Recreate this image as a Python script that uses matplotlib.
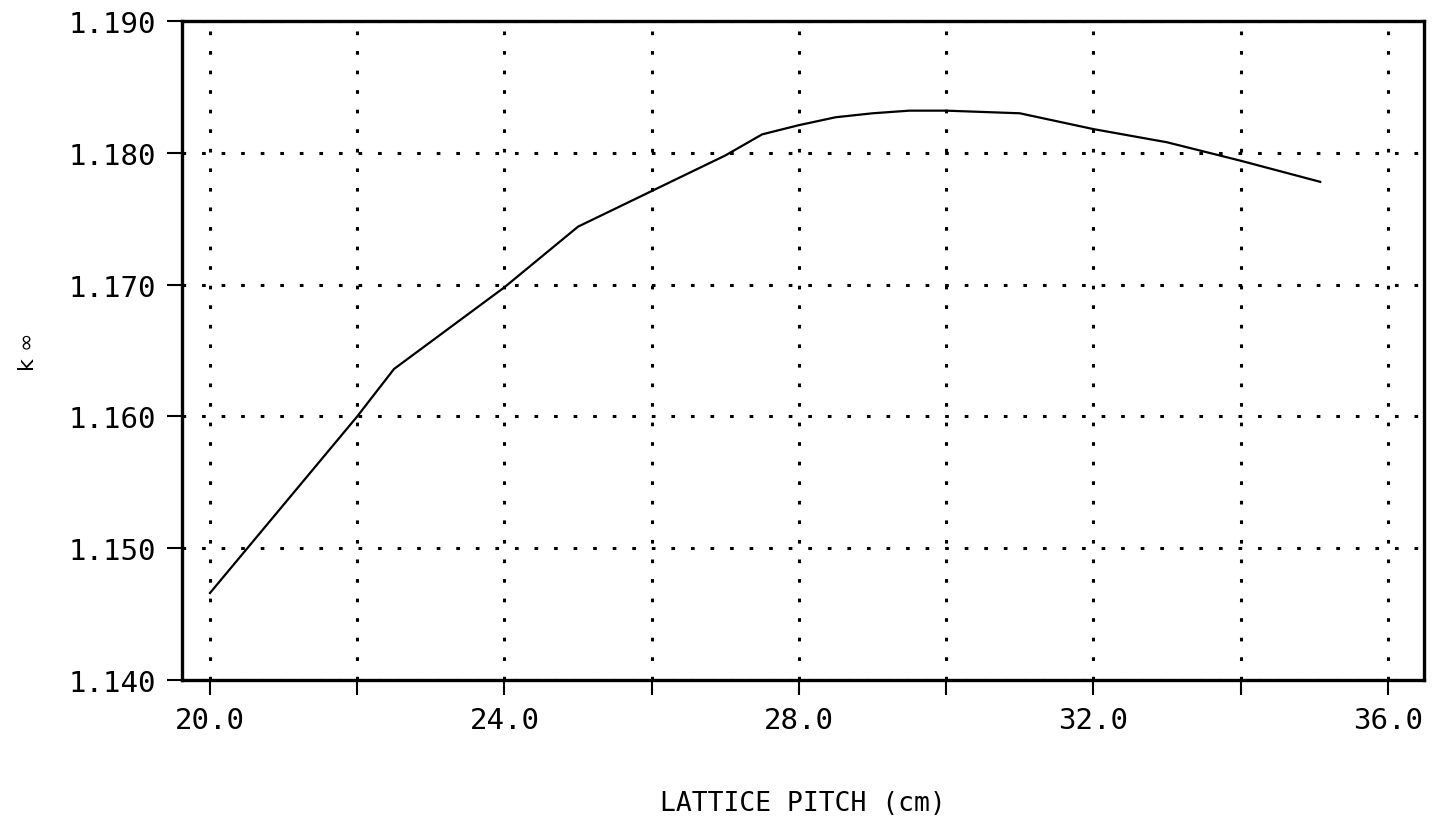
import matplotlib
matplotlib.use("Agg")
import matplotlib.pyplot as plt

# k-infinity vs lattice pitch
pitch = [20.0, 22.0, 22.5, 24.0, 25.0, 26.0, 27.0, 27.5, 28.0, 28.5, 29.0,
         29.5, 30.0, 30.5, 31.0, 32.0, 33.0, 34.0, 35.08]
kinf = [1.1466, 1.1600, 1.1636, 1.1698, 1.1744, 1.1771, 1.1798, 1.1814,
        1.1821, 1.1827, 1.1830, 1.1832, 1.1832, 1.1831, 1.1830, 1.1818,
        1.1808, 1.1794, 1.1778]

xticks = [20, 22, 24, 26, 28, 30, 32, 34, 36]
xticklabels = ["20.0", "", "24.0", "", "28.0", "", "32.0", "", "36.0"]
yticks = [1.140, 1.150, 1.160, 1.170, 1.180, 1.190]
yticklabels = ["1.140", "1.150", "1.160", "1.170", "1.180", "1.190"]

plt.rcParams['font.family'] = ['DejaVu Sans Mono', 'DejaVu Sans']

fig = plt.figure(figsize=(14.33, 8.28), dpi=100)
ax = fig.add_axes([0.127, 0.1775, 0.8667, 0.7959])

ax.plot(pitch, kinf, color="black", linewidth=1.6)

ax.set_xlim(19.62, 36.49)
ax.set_ylim(1.140, 1.190)
ax.set_xticks(xticks, xticklabels)
ax.set_yticks(yticks, yticklabels)

ax.grid(True, color="black", linewidth=2.2, linestyle=(0, (1.2, 5.2)))
ax.tick_params(direction="out", length=11, width=1.5, pad=8,
               labelsize=21, colors="black")

for s in ax.spines.values():
    s.set_linewidth(2.4)

ax.set_xlabel("LATTICE PITCH (cm)", fontsize=19, labelpad=40)
ax.set_ylabel("k ∞", fontsize=16, family="DejaVu Sans")
ax.yaxis.set_label_coords(-0.116, 0.5)

fig.savefig("out.png", dpi=100)
